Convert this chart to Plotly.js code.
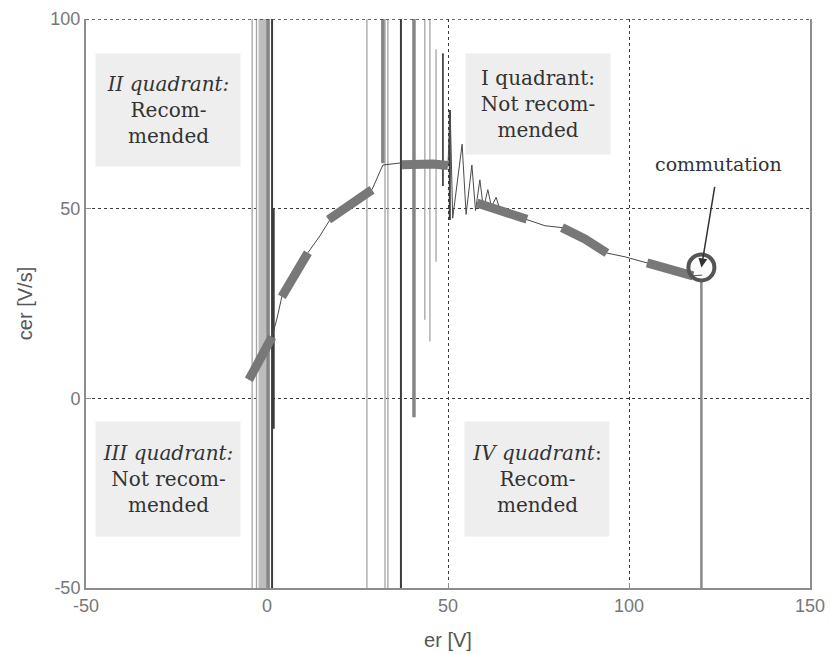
<!DOCTYPE html>
<html><head><meta charset="utf-8">
<script src="https://cdn.plot.ly/plotly-3.0.1.min.js"></script>
<style>html,body{margin:0;padding:0;background:#fff}#chart{width:830px;height:654px}</style>
</head><body><div id="chart"></div>
<script>
// Main trajectory in the (er, cer) phase plane
const curveEr  = [-5.0,-1.9,1.4,2.8,4.1,7.7,11.3,14.6,17.4,22.9,29.0,32.0,37.3,42.0,46.0,50.0,50.6,51.3,53.9,55.0,56.6,57.6,58.8,59.8,61.0,62.0,63.3,64.4,68.0,71.8,76.8,81.5,87.8,93.9,98.9,105.0,111.3,117.7,120.2];
const curveCer = [4.9,10.2,16.2,21.2,26.8,32.6,38.4,42.8,47.1,51.8,55.0,61.5,62.1,62.4,62.2,61.6,76.0,47.5,67.0,48.5,61.5,49.5,57.6,50.0,55.0,50.5,53.0,49.5,48.3,47.2,45.5,45.0,42.0,38.3,37.3,35.7,33.9,32.3,32.5];

// Thick dashed highlight segments (null = gap)
const thickEr  = [-5.0,-1.9,1.4,null,4.1,7.7,11.3,null,17.0,22.9,29.0,null,37.3,42.0,46.0,50.0,null,58.0,64.4,71.8,null,81.5,87.8,93.9,null,105.0,111.3,117.7];
const thickCer = [4.9,10.2,16.2,null,26.8,32.6,38.4,null,47.1,51.3,55.0,null,61.6,61.9,61.8,61.4,null,51.5,49.3,47.2,null,45.0,42.0,38.3,null,35.7,33.9,32.3];

// Chattering (vertical) segments: er position, top and bottom cer
const lightEr  = [-4.1,-2.9,27.6,32.6,33.4,43.6,45.0,46.7];
const lightTop = [100,100,100,100,100,100,100,92];
const lightBot = [-50,-50,-50,-50,-50,20.7,15,36];
const bandEr   = [-1.1];
const bandTop  = [100];
const bandBot  = [-50];
const midEr    = [0.3,32.0,40.6];
const midTop   = [100,100,100];
const midBot   = [-50,62,-5];
const darkEr   = [1.4,37.0,50.5];
const darkTop  = [100,100,76];
const darkBot  = [-50,-50,47];
const shortEr  = [1.9,48.6];
const shortTop = [50,91];
const shortBot = [-8,56];

// Commutation point
const commEr  = [120];
const commCer = [34.5];

const xTicks = [-50,0,50,100,150];
const yTicks = [-50,0,50,100];

function verticals(xs, tops, bots){
  const x=[], y=[];
  xs.forEach((v,i)=>{ x.push(v,v,null); y.push(bots[i],tops[i],null); });
  return {x, y};
}
function vTrace(xs,tops,bots,color,width){
  const d = verticals(xs,tops,bots);
  return {type:'scatter', mode:'lines', x:d.x, y:d.y, line:{color:color,width:width}, hoverinfo:'skip', showlegend:false};
}

const traces = [
  vTrace(bandEr,bandTop,bandBot,'#bdbdbd',9),
  vTrace(lightEr,lightTop,lightBot,'#a4a4a4',1.3),
  vTrace(midEr,midTop,midBot,'#858585',3.5),
  vTrace(darkEr,darkTop,darkBot,'#3c3c3c',2),
  vTrace(shortEr,shortTop,shortBot,'#222',1.5),
  {type:'scatter', mode:'lines', x:[commEr[0],commEr[0]], y:[-50, commCer[0]-3.6], line:{color:'#8a8a8a',width:2.5}, showlegend:false},
  {type:'scatter', mode:'lines', x:curveEr, y:curveCer, line:{color:'#4a4a4a',width:1}, showlegend:false},
  {type:'scatter', mode:'lines', x:thickEr, y:thickCer, connectgaps:false, line:{color:'#787878',width:9}, showlegend:false},
  {type:'scatter', mode:'markers', x:commEr, y:commCer, marker:{symbol:'circle-open', size:26, color:'#555', line:{width:4, color:'#555'}}, showlegend:false}
];

const qFont = {family:'DejaVu Serif, serif', size:20, color:'#333'};
function qBox(x,y,text,h){
  return {xref:'x', yref:'y', x:x, y:y, text:text, showarrow:false, font:qFont, bgcolor:'#eeeeee', width:142, height:h, align:'center'};
}

const gridDash = '3px,3px';
const layout = {
  width:830, height:654,
  margin:{l:86, r:20, t:19, b:66},
  paper_bgcolor:'#fff', plot_bgcolor:'#fff',
  showlegend:false,
  xaxis:{
    range:[-50,150], tickvals:xTicks, ticktext:xTicks.map(String),
    showgrid:true, gridcolor:'#3a3a3a', griddash:gridDash, gridwidth:1,
    zeroline:false, showline:true, linecolor:'#8c8c8c', linewidth:2, mirror:false,
    ticks:'inside', ticklen:5, tickcolor:'#8c8c8c',
    tickfont:{family:'Liberation Sans, Arial, sans-serif', size:18, color:'#777'},
    title:{text:'er [V]', font:{family:'Liberation Sans, Arial, sans-serif', size:20, color:'#555'}, standoff:18}
  },
  yaxis:{
    range:[-50,100], tickvals:yTicks, ticktext:yTicks.map(String),
    showgrid:true, gridcolor:'#3a3a3a', griddash:gridDash, gridwidth:1,
    zeroline:false, showline:true, linecolor:'#8c8c8c', linewidth:2, mirror:true,
    ticks:'inside', ticklen:5, tickcolor:'#8c8c8c',
    tickfont:{family:'Liberation Sans, Arial, sans-serif', size:18, color:'#777'},
    title:{text:'cer [V/s]', font:{family:'Liberation Sans, Arial, sans-serif', size:20, color:'#555'}, standoff:12}
  },
  shapes:[
    {type:'line', xref:'paper', yref:'y', x0:0, x1:1, y0:yTicks[yTicks.length-1], y1:yTicks[yTicks.length-1],
     line:{color:'#3a3a3a', width:1.5, dash:gridDash}}
  ],
  annotations:[
    qBox(-27.3,76.1,'<i>II quadrant:</i><br>Recom-<br>mended',110),
    qBox(74.9,77.5,'I quadrant:<br>Not recom-<br>mended',98),
    qBox(-27.3,-21.2,'<i>III quadrant:</i><br>Not recom-<br>mended',112),
    qBox(74.6,-21.2,'<i>IV quadrant</i>:<br>Recom-<br>mended',112),
    {xref:'x', yref:'y', x:commEr[0], y:commCer[0], ax:17, ay:-103, text:'commutation',
     font:{family:'DejaVu Serif, serif', size:19, color:'#333'}, showarrow:true,
     arrowhead:2, arrowsize:1.2, arrowwidth:1.5, arrowcolor:'#333', startstandoff:10, standoff:0}
  ]
};

Plotly.newPlot('chart', traces, layout, {staticPlot:true, displayModeBar:false});
</script>
</body></html>
